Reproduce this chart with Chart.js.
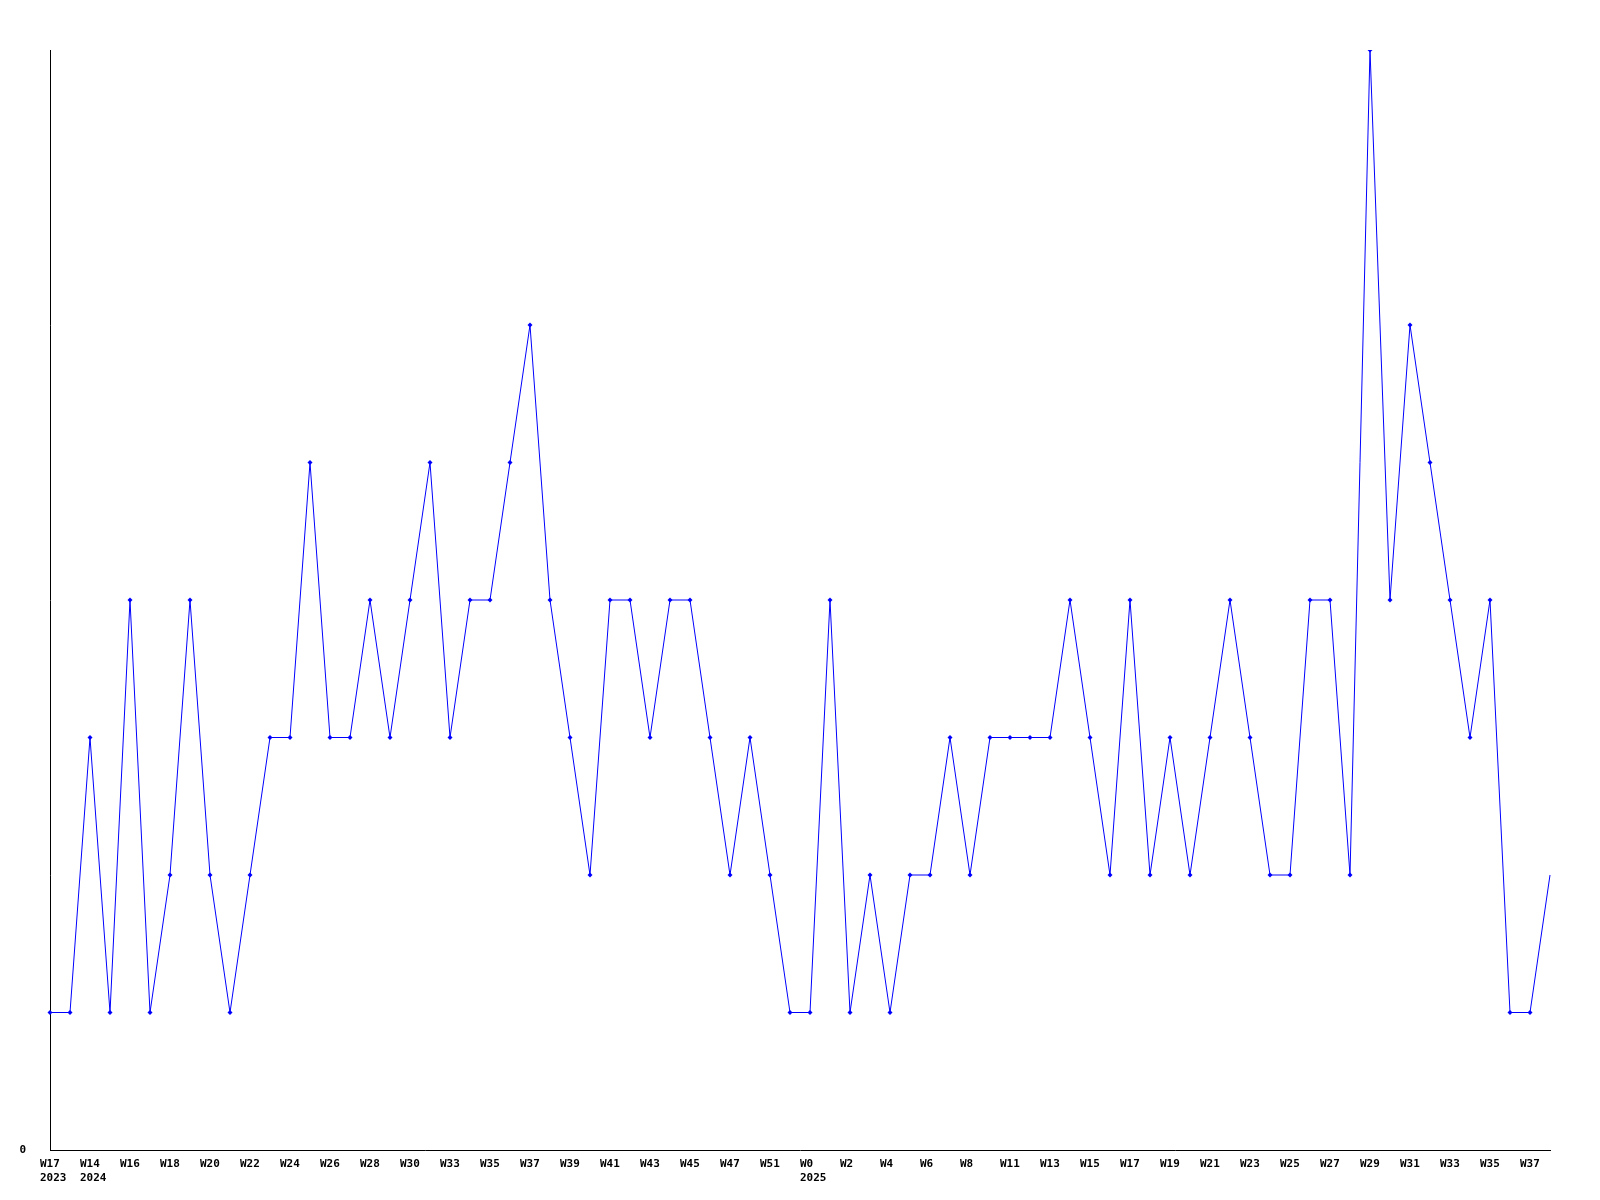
<!DOCTYPE html>
<html>
<head>
<meta charset="utf-8">
<script src="https://cdn.jsdelivr.net/npm/chart.js@4/dist/chart.umd.min.js"></script>
<style>
  html, body { margin: 0; padding: 0; background: #fff; }
  #wrap { width: 1600px; height: 1200px; }
</style>
</head>
<body>
<div id="wrap"><canvas id="chart"></canvas></div>
<script>
// weekly categories (only every other one is printed on the axis)
const weeks = [
  'W17', 'W13', 'W14', 'W15', 'W16', 'W17', 'W18', 'W19', 'W20', 'W21',
  'W22', 'W23', 'W24', 'W25', 'W26', 'W27', 'W28', 'W29', 'W30', 'W32',
  'W33', 'W34', 'W35', 'W36', 'W37', 'W38', 'W39', 'W40', 'W41', 'W42',
  'W43', 'W44', 'W45', 'W46', 'W47', 'W48', 'W51', 'W52', 'W0', 'W1',
  'W2', 'W3', 'W4', 'W5', 'W6', 'W7', 'W8', 'W10', 'W11', 'W12',
  'W13', 'W14', 'W15', 'W16', 'W17', 'W18', 'W19', 'W20', 'W21', 'W22',
  'W23', 'W24', 'W25', 'W26', 'W27', 'W28', 'W29', 'W30', 'W31', 'W32',
  'W33', 'W34', 'W35', 'W36', 'W37', 'W38'
];
// year shown under the first week of each year
const years = { 0: '2023', 2: '2024', 38: '2025' };

const values = [
  1, 1, 3, 1, 4, 1, 2, 4, 2, 1,
  2, 3, 3, 5, 3, 3, 4, 3, 4, 5,
  3, 4, 4, 5, 6, 4, 3, 2, 4, 4,
  3, 4, 4, 3, 2, 3, 2, 1, 1, 4,
  1, 2, 1, 2, 2, 3, 2, 3, 3, 3,
  3, 4, 3, 2, 4, 2, 3, 2, 3, 4,
  3, 2, 2, 4, 4, 2, 8, 4, 6, 5,
  4, 3, 4, 1, 1, 2
];

const labels = weeks.map((w, i) => years[i] ? [w, years[i]] : w);
const axisFont = { family: 'DejaVu Sans Mono', size: 11, weight: 'bold', lineHeight: 1.3 };

new Chart(document.getElementById('chart'), {
  type: 'line',
  data: {
    labels: labels,
    datasets: [{
      data: values,
      borderColor: '#0000ff',
      backgroundColor: '#0000ff',
      borderWidth: 1,
      tension: 0,
      pointStyle: 'rectRot',
      pointRadius: ctx => ctx.dataIndex === values.length - 1 ? 0 : 2.5,
      pointBorderWidth: 0,
      pointBackgroundColor: '#0000ff'
    }]
  },
  options: {
    responsive: true,
    maintainAspectRatio: false,
    animation: false,
    layout: { padding: { top: 50, right: 50, left: 0, bottom: 0 } },
    plugins: { legend: { display: false }, tooltip: { enabled: false } },
    scales: {
      x: {
        offset: false,
        grid: { display: false, drawTicks: false },
        border: { display: true, color: '#000', width: 1 },
        ticks: {
          autoSkip: false,
          maxRotation: 0,
          align: 'start',
          labelOffset: -10,
          padding: 7,
          color: '#000',
          font: axisFont,
          callback: function (v, i) { return i % 2 === 0 ? this.getLabelForValue(v) : ''; }
        },
        afterFit: s => { s.height = 50; }
      },
      y: {
        min: 0,
        max: 8,
        grid: { display: false, drawTicks: false },
        border: { display: true, color: '#000', width: 1 },
        ticks: {
          stepSize: 1,
          padding: 24,
          color: '#000',
          font: axisFont,
          callback: v => v === 0 ? '0' : ''
        },
        afterFit: s => { s.width = 50; }
      }
    }
  }
});
</script>
</body>
</html>
